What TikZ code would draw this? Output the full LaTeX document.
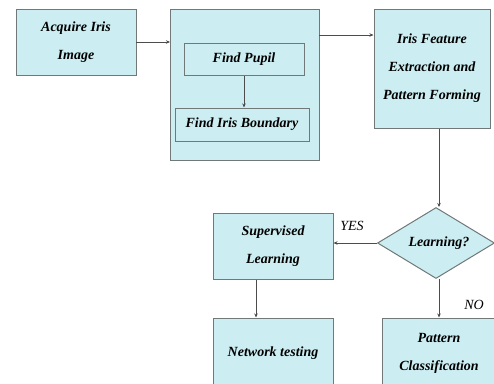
\documentclass[tikz,border=0pt]{standalone}
\usepackage{fontspec}
\setmainfont{Liberation Serif}
\usetikzlibrary{shapes.geometric,arrows.meta}
\definecolor{boxfill}{HTML}{CCEEF2}
\definecolor{boxline}{HTML}{707878}
\begin{document}
\begin{tikzpicture}[x=1pt,y=-1pt,
  lbl/.style={font=\bfseries\itshape\fontsize{14}{28}\selectfont,align=center},
  box/.style={draw=boxline,fill=boxfill,line width=1pt,inner sep=0pt},
  arr/.style={draw=black!70,line width=0.7pt,-{Stealth[length=4pt,width=3.5pt]}}]
\useasboundingbox (0,0) rectangle (494,383);
% boxes
\path[box] (16,9) rectangle (136,75); \node[lbl] (acq) at (76,42) {Acquire Iris\\Image};
\coordinate (acqR) at (136,42);
\path[box] (170,9) rectangle (319,160);
\coordinate (segL) at (170,42); \coordinate (segR) at (319,35);
\node[box,minimum width=120pt,minimum height=32pt,lbl] (pupil) at (244,59) {Find Pupil};
\node[box,minimum width=134pt,minimum height=33pt,lbl] (bound) at (242,124.5) {Find Iris Boundary};
\node[box,minimum width=116pt,minimum height=119pt,lbl] (feat) at (432,68.5) {Iris Feature\\Extraction and\\Pattern Forming};
\node[draw=boxline,fill=boxfill,line width=1pt,diamond,aspect=1.65,minimum width=117pt,minimum height=71pt,inner sep=0pt] (dec) at (436,243) {};
\node[lbl] at (439,243) {Learning?};
\node[box,minimum width=120pt,minimum height=66pt,lbl] (sup) at (273,246) {Supervised\\Learning};
\node[box,minimum width=120pt,minimum height=70pt,lbl] (net) at (273,353) {Network testing};
\node[box,minimum width=114pt,minimum height=70pt,lbl] (pat) at (439,353) {Pattern\\Classification};
% connectors
\draw[arr] (acqR) -- (segL);
\draw[arr] (segR) -- (segR -| feat.west);
\draw[arr] (pupil.south) -- (pupil.south |- bound.north);
\draw[arr] (feat.south -| 439,0) -- (dec.north -| 439,0);
\draw[arr] (dec.west) -- (sup.east |- dec.west);
\draw[arr] (dec.south -| 439,0) -- (pat.north -| 439,0);
\draw[arr] (sup.south -| 256,0) -- (net.north -| 256,0);
\node[font=\itshape\fontsize{14}{16}\selectfont] (yes) at (352,226) {YES};
\node[font=\itshape\fontsize{14}{16}\selectfont] (no) at (474,305) {NO};
\end{tikzpicture}
\end{document}
